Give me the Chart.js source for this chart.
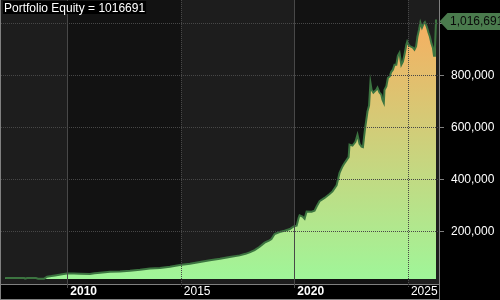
<!DOCTYPE html>
<html>
<head>
<meta charset="utf-8">
<title>Portfolio Equity</title>
<script src="https://cdn.jsdelivr.net/npm/chart.js@4.4.1/dist/chart.umd.min.js"></script>
<style>
  html, body { margin: 0; padding: 0; background: #000; }
  #wrap { width: 500px; height: 300px; }
</style>
</head>
<body>
<div id="wrap"><canvas id="equity" width="500" height="300"></canvas></div>
<script>
// equity curve; x is a decimal year
const years = [
  2007.26, 2007.70, 2008.10, 2008.14, 2008.23, 2008.62, 2008.71, 2008.98, 2009.11, 2009.30,
  2009.46, 2009.77, 2009.99, 2010.30, 2010.56, 2011.00, 2011.20, 2011.44, 2011.88, 2012.32,
  2012.76, 2013.20, 2013.64, 2014.08, 2014.52, 2014.96, 2015.40, 2015.84, 2016.28, 2016.72,
  2017.15, 2017.59, 2017.85, 2018.03, 2018.25, 2018.47, 2018.69, 2018.90, 2018.99, 2019.13,
  2019.35, 2019.57, 2019.80, 2019.97, 2020.10, 2020.19, 2020.23, 2020.36, 2020.45, 2020.54,
  2020.76, 2020.89, 2020.98, 2021.11, 2021.33, 2021.55, 2021.68, 2021.86, 2021.99, 2022.12,
  2022.21, 2022.39, 2022.43, 2022.56, 2022.69, 2022.78, 2022.87, 2022.96, 2023.02, 2023.07,
  2023.12, 2023.17, 2023.22, 2023.29, 2023.35, 2023.40, 2023.48, 2023.61, 2023.66, 2023.75,
  2023.83, 2023.88, 2023.94, 2023.97, 2024.05, 2024.12, 2024.20, 2024.27, 2024.34, 2024.41,
  2024.49, 2024.56, 2024.63, 2024.71, 2024.78, 2024.85, 2024.93, 2024.97, 2025.03, 2025.10,
  2025.22, 2025.29, 2025.36, 2025.42, 2025.49, 2025.55, 2025.62, 2025.69, 2025.75, 2025.83,
  2025.91, 2025.97, 2026.04, 2026.10, 2026.15, 2026.19, 2026.24
];
const equity = [
  23000, 23500, 23000, 20500, 23000, 23000, 20500, 20500, 28000, 30500,
  33000, 37500, 40500, 40500, 39500, 38500, 41000, 43500, 47000, 48500,
  51000, 55000, 60000, 61500, 66500, 73000, 78000, 84500, 91000, 97000,
  104000, 110000, 116000, 121500, 130000, 143000, 159000, 168000, 173000, 192000,
  200000, 205000, 211500, 221500, 224000, 255000, 264000, 259000, 251000, 279000,
  278000, 282000, 298000, 318000, 331000, 346000, 356000, 379000, 427000, 452000,
  465000, 488000, 536000, 532000, 547000, 574000, 539000, 528000, 526000, 566000,
  601000, 632000, 663000, 686000, 774000, 747000, 736000, 747000, 755000, 736000,
  728000, 709000, 697000, 747000, 760000, 793000, 798000, 816000, 824000, 843000,
  843000, 878000, 889000, 843000, 855000, 882000, 920000, 932000, 920000, 914000,
  909000, 901000, 913000, 951000, 978000, 1005000, 986000, 1001000, 1007000, 990000,
  966000, 951000, 924000, 909000, 878000, 901000, 1016691
];
const xTicks = [2010, 2015, 2020, 2025];
const yTicks = [200000, 400000, 600000, 800000, 1000000];
const title = 'Portfolio Equity = 1016691';

const X_MIN = 2007.08, X_MAX = 2026.37;
const Y_MAX = 1092000;
const FILL_FLOOR = 19000;
const FONT = 'Arial, "Liberation Sans", sans-serif';

// backdrop bands, year lines, frame, title box and last-value tag
const amiLook = {
  id: 'amiLook',
  beforeDraw(chart) {
    const { ctx, chartArea: a, scales: { x } } = chart;
    ctx.save();
    ctx.fillStyle = '#000';
    ctx.fillRect(0, 0, chart.width, chart.height);
    const edges = [X_MIN, 2010, 2015, 2020, 2025, X_MAX];
    for (let i = 0; i < edges.length - 1; i++) {
      const x0 = Math.round(x.getPixelForValue(edges[i]));
      const x1 = Math.round(x.getPixelForValue(edges[i + 1]));
      ctx.fillStyle = i % 2 ? '#121212' : '#1d1d1d';
      ctx.fillRect(x0, a.top, x1 - x0, a.bottom - a.top);
    }
    ctx.restore();
  },
  afterDatasetsDraw(chart) {
    const { ctx, chartArea: a, scales: { x } } = chart;
    ctx.save();
    ctx.lineWidth = 1;
    ctx.strokeStyle = '#484848';
    xTicks.forEach((v) => {
      const px = Math.round(x.getPixelForValue(v)) + 0.5;
      ctx.setLineDash(v % 10 === 0 ? [] : [1, 1]);
      ctx.beginPath();
      ctx.moveTo(px, a.top);
      ctx.lineTo(px, a.bottom + 4);
      ctx.stroke();
    });
    ctx.restore();
  },
  afterDraw(chart) {
    const { ctx, chartArea: a, scales: { y } } = chart;
    ctx.save();
    ctx.setLineDash([]);
    ctx.strokeStyle = '#808080';
    ctx.lineWidth = 1;
    ctx.beginPath();
    ctx.moveTo(0.5, 0); ctx.lineTo(0.5, chart.height);
    ctx.moveTo(0, chart.height - 0.5); ctx.lineTo(a.right, chart.height - 0.5);
    ctx.moveTo(a.right + 0.5, 0); ctx.lineTo(a.right + 0.5, chart.height);
    ctx.stroke();

    ctx.font = '12px ' + FONT;
    const w = ctx.measureText(title).width;
    ctx.fillStyle = '#000';
    ctx.fillRect(3, 1, w + 2, 13);
    ctx.fillStyle = '#fff';
    ctx.textBaseline = 'alphabetic';
    ctx.fillText(title, 4, 12);

    const last = equity[equity.length - 1];
    const cy = Math.round(y.getPixelForValue(last)) + 1.5;
    const tip = a.right + 0.5;
    ctx.fillStyle = '#4a7b4d';
    ctx.beginPath();
    ctx.moveTo(tip, cy);
    ctx.lineTo(tip + 8, cy - 8.5);
    ctx.lineTo(chart.width, cy - 8.5);
    ctx.lineTo(chart.width, cy + 8.5);
    ctx.lineTo(tip + 8, cy + 8.5);
    ctx.closePath();
    ctx.fill();
    ctx.fillStyle = '#0a0a0a';
    ctx.textBaseline = 'middle';
    ctx.fillText(last.toLocaleString('en-US'), 450, cy + 0.5);
    ctx.restore();
  },
};

new Chart(document.getElementById('equity'), {
  type: 'line',
  data: {
    datasets: [{
      data: years.map((x, i) => ({ x, y: equity[i] })),
      borderColor: '#3c7440',
      borderWidth: 2,
      pointRadius: 0,
      tension: 0,
      fill: { value: FILL_FLOOR },
      backgroundColor: (c) => {
        const a = c.chart.chartArea;
        if (!a) return '#9ef79a';
        const g = c.chart.ctx.createLinearGradient(0, a.bottom, 0, a.top);
        g.addColorStop(0, '#9ef79a');
        g.addColorStop(1, '#fda95c');
        return g;
      },
    }],
  },
  options: {
    responsive: false,
    animation: false,
    layout: { padding: { left: 1, top: 0, right: 0, bottom: 0 } },
    plugins: { legend: { display: false }, tooltip: { enabled: false } },
    scales: {
      x: {
        type: 'linear', position: 'bottom', min: X_MIN, max: X_MAX,
        afterBuildTicks: (s) => { s.ticks = xTicks.map((v) => ({ value: v })); },
        afterFit: (s) => { s.height = 16; s.paddingLeft = 0; s.paddingRight = 0; },
        grid: { display: false, drawTicks: false },
        border: { display: true, color: '#808080', width: 1 },
        ticks: {
          align: 'start', labelOffset: 3, padding: 0, maxRotation: 0, autoSkip: false, color: '#fff',
          font: (c) => ({ family: FONT, size: 12, weight: c.tick && c.tick.value % 10 === 0 ? 'bold' : 'normal' }),
          callback: (v) => String(v),
        },
      },
      y: {
        type: 'linear', position: 'right', min: 0, max: Y_MAX,
        afterBuildTicks: (s) => { s.ticks = yTicks.map((v) => ({ value: v })); },
        afterFit: (s) => { s.width = 61; s.paddingTop = 0; s.paddingBottom = 0; },
        grid: { color: '#474747', lineWidth: 1, z: 1, drawTicks: true, tickLength: 5, tickColor: '#808080' },
        border: { display: true, color: '#808080', width: 1, dash: [1, 1] },
        ticks: {
          padding: 7, color: '#fff', font: { family: FONT, size: 12 },
          callback: (v) => (v >= 1000000 ? '' : v.toLocaleString('en-US')),
        },
      },
    },
  },
  plugins: [amiLook],
});
</script>
</body>
</html>
